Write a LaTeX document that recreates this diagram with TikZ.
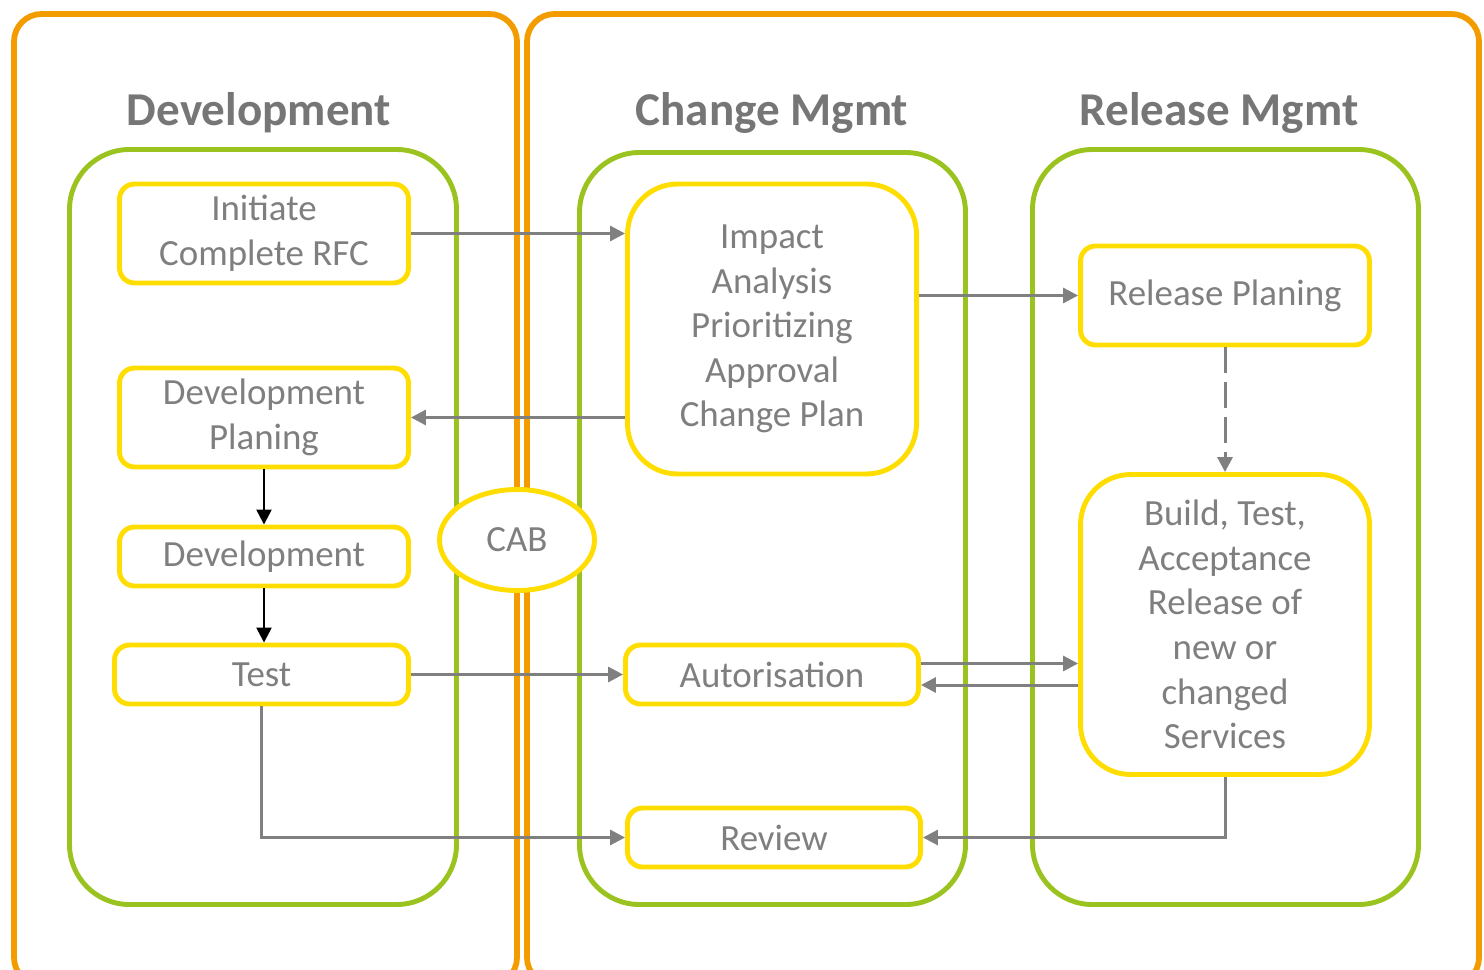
\documentclass[tikz,border=0pt]{standalone}
\usepackage{fontspec}
\setmainfont{Carlito}
\usetikzlibrary{arrows.meta,shapes.geometric}
\definecolor{orng}{HTML}{F39C00}
\definecolor{grn}{HTML}{9BC31F}
\definecolor{ylw}{HTML}{FFDD00}
\definecolor{txtgray}{HTML}{7F7F7F}
\definecolor{titlegray}{HTML}{767676}
\definecolor{arrgray}{HTML}{808080}
\tikzset{
  lane/.style={draw=orng,line width=3.3pt,rounded corners=0.55cm},
  group/.style={draw=grn,line width=2.8pt,rounded corners=1.2cm},
  title/.style={text=titlegray,font=\fontsize{26.8}{32}\selectfont\bfseries},
  box/.style={draw=ylw,fill=white,line width=2.8pt,rounded corners=0.3cm,align=center,
    text=txtgray,font=\fontsize{21}{25.4}\selectfont,inner sep=0pt,minimum width=5.78cm},
  bigbox/.style={box,rounded corners=1cm},
  flow/.style={draw=arrgray,line width=1.7pt,-{Triangle[length=0.3cm,width=0.3cm]}},
  blackflow/.style={draw=black,line width=1.4pt,-{Triangle[length=0.3cm,width=0.3cm]}},
}
\begin{document}
\begin{tikzpicture}[x=0.02cm,y=-0.02cm]
\useasboundingbox (0,0) rectangle (1484,970);
\clip (0,0) rectangle (1484,970);
% lanes
\draw[lane] (14,14) rectangle (517,985);
\draw[lane] (527,14) rectangle (1479,985);
% groups
\draw[group] (69.5,149.5) rectangle (456.5,904.5);
\draw[group] (579.5,152.5) rectangle (965.5,904.5);
\draw[group] (1032.5,149.5) rectangle (1418.5,904.5);
% titles
\node[title] (tdev) at (259,113) {Development};
\node[title] (tchg) at (772,113) {Change Mgmt};
\node[title] (trel) at (1219,113) {Release Mgmt};
% boxes
\node[box,minimum height=1.98cm] (init) at (264,233.5) {Initiate\\Complete RFC};
\node[bigbox,minimum height=5.8cm] (impact) at (772,329) {Impact\\Analysis\\Prioritizing\\Approval\\Change Plan};
\node[box,minimum height=1.98cm] (relplan) at (1225,295.5) {Release Planing};
\node[box,minimum height=1.98cm] (devplan) at (264,417.5) {Development\\Planing};
\node[box,minimum height=1.18cm] (dev) at (264,556.5) {Development};
\node[box,minimum height=1.18cm,minimum width=5.88cm] (test) at (261.5,674.5) {Test};
\node[draw=ylw,fill=white,line width=2.8pt,ellipse,minimum width=3.1cm,minimum height=2.02cm,
  text=txtgray,font=\fontsize{21}{25.4}\selectfont,inner sep=0pt] (cab) at (517,540) {CAB};
\node[box,minimum height=1.18cm,minimum width=5.86cm] (auth) at (772,674.5) {Autorisation};
\node[bigbox,minimum height=6.0cm] (build) at (1225,624.5) {Build, Test,\\Acceptance\\Release of\\new or\\changed\\Services};
\node[box,minimum height=1.18cm,minimum width=5.86cm] (review) at (774,837.5) {Review};
% connectors
\draw[flow] (init.east) -- (init.east -| impact.west);
\draw[flow] (devplan.east -| impact.west) -- (devplan.east);
\draw[flow] (relplan.west -| impact.east) -- (relplan.west);
\draw[flow,dash pattern=on 0.52cm off 0.18cm] (relplan.south) -- (build.north);
\draw[blackflow] (devplan.south) -- (dev.north);
\draw[blackflow] (dev.south) -- (dev.south |- test.north);
\draw[flow] (test.east) -- (auth.west);
\draw[flow] ([yshift=0.22cm]auth.east) -- ([yshift=0.22cm]auth.east -| build.west);
\draw[flow] ([yshift=-0.21cm]auth.east -| build.west) -- ([yshift=-0.21cm]auth.east);
\draw[flow] (test.south) |- (review.west);
\draw[flow] (build.south) |- (review.east);
\end{tikzpicture}
\end{document}
